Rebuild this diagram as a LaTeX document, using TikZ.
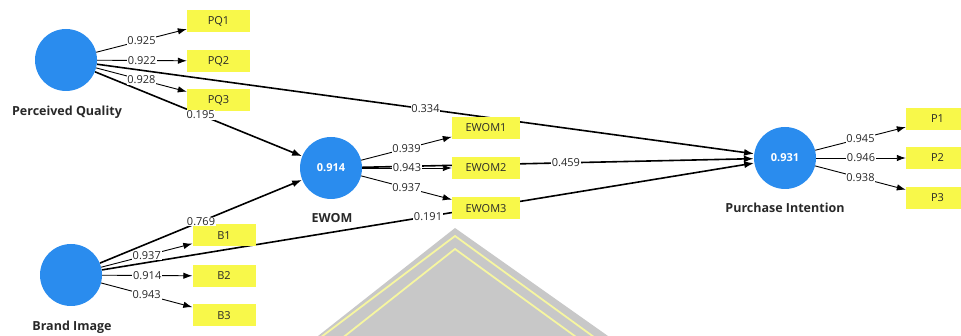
\documentclass[tikz,border=0pt]{standalone}
\usepackage{fontspec}
\setmainfont{Open Sans}
\usetikzlibrary{arrows.meta,backgrounds}
\definecolor{lvblue}{RGB}{42,140,238}
\definecolor{mvyellow}{RGB}{248,248,74}
\definecolor{labgray}{RGB}{40,40,40}
\definecolor{wmgray}{RGB}{200,200,200}
\definecolor{wmyellow}{RGB}{246,246,160}
\tikzset{
  lv/.style={circle,fill=lvblue,minimum size=62pt,inner sep=0pt,text=white,
    font=\fontsize{11}{13}\selectfont\bfseries},
  lvname/.style={font=\fontsize{12.5}{14}\selectfont\bfseries,text=labgray,inner sep=0pt},
  mv/.style={fill=mvyellow,minimum width=63pt,minimum height=22pt,inner sep=0pt,
    font=\fontsize{11}{13}\selectfont,text=labgray},
  mvwide/.style={mv,minimum width=68pt},
  lab/.style={fill=white,inner sep=0.8pt,font=\fontsize{11}{13}\selectfont,text=labgray},
  load/.style={-{Latex[length=9pt,width=6.5pt]},line width=0.9pt},
  path/.style={-{Latex[length=10pt,width=7pt]},line width=1.6pt},
}
\begin{document}
\begin{tikzpicture}[x=1pt,y=-1pt]
\useasboundingbox (0,0) rectangle (961,336);

% latent variables
\node[lv] (pq) at (66,60) {};
\node[lvname] (pqname) at (67,112) {Perceived Quality};
\node[lv] (bi) at (71,275) {};
\node[lvname] (biname) at (72,327) {Brand Image};
\node[lv] (ew) at (331,168) {0.914};
\node[lvname] (ewname) at (332,218) {EWOM};
\node[lv] (pi) at (785,158) {0.931};
\node[lvname] (piname) at (785,208) {Purchase Intention};

% indicators
\node[mv] (pq1) at (218.5,21) {PQ1};
\node[mv] (pq2) at (218.5,61) {PQ2};
\node[mv] (pq3) at (218.5,100) {PQ3};
\node[mv] (b1) at (224,235.5) {B1};
\node[mv] (b2) at (224,276) {B2};
\node[mv] (b3) at (224,315.5) {B3};
\node[mvwide] (ew1) at (486,128) {EWOM1};
\node[mvwide] (ew2) at (486,168) {EWOM2};
\node[mvwide] (ew3) at (486,208.5) {EWOM3};
\node[mv] (p1) at (937.5,119) {P1};
\node[mv] (p2) at (937.5,158) {P2};
\node[mv] (p3) at (937.5,198) {P3};

\begin{scope}[on background layer]
  % faint emblem at the bottom
  \fill[wmgray] (455,228) -- (318,336) -- (608,336) -- cycle;
  \draw[wmyellow,line width=1.8pt] (300,353) -- (455,236) -- (620,356);
  \draw[wmyellow,line width=1.8pt] (317,358) -- (455,249) -- (605,358);
  % structural paths (run behind the indicator boxes)
  \draw[path] (pq) -- coordinate[pos=0.51] (m1) (ew);
  \draw[path] (bi) -- coordinate[pos=0.5] (m2) (ew);
  \draw[path] (pq) -- coordinate[pos=0.5] (m3) (pi);
  \draw[path] (bi) -- coordinate[pos=0.5] (m4) (pi);
  \draw[path] (ew) -- coordinate[pos=0.52] (m5) (pi);
\end{scope}

% path coefficients
\node[lab] (c1) at (m1) {0.195};
\node[lab] (c2) at (m2) {0.769};
\node[lab] (c3) at (m3) {0.334};
\node[lab] (c4) at (m4) {0.191};
\node[lab] (c5) at (m5) {0.459};

% outer loadings
\draw[load] (pq) -- node[lab]{0.925} (pq1);
\draw[load] (pq) -- node[lab]{0.922} (pq2);
\draw[load] (pq) -- node[lab]{0.928} (pq3);
\draw[load] (bi) -- node[lab]{0.937} (b1);
\draw[load] (bi) -- node[lab]{0.914} (b2);
\draw[load] (bi) -- node[lab]{0.943} (b3);
\draw[load] (ew) -- node[lab]{0.939} (ew1);
\draw[load] (ew) -- node[lab]{0.943} (ew2);
\draw[load] (ew) -- node[lab]{0.937} (ew3);
\draw[load] (pi) -- node[lab]{0.945} (p1);
\draw[load] (pi) -- node[lab]{0.946} (p2);
\draw[load] (pi) -- node[lab]{0.938} (p3);
\end{tikzpicture}
\end{document}
